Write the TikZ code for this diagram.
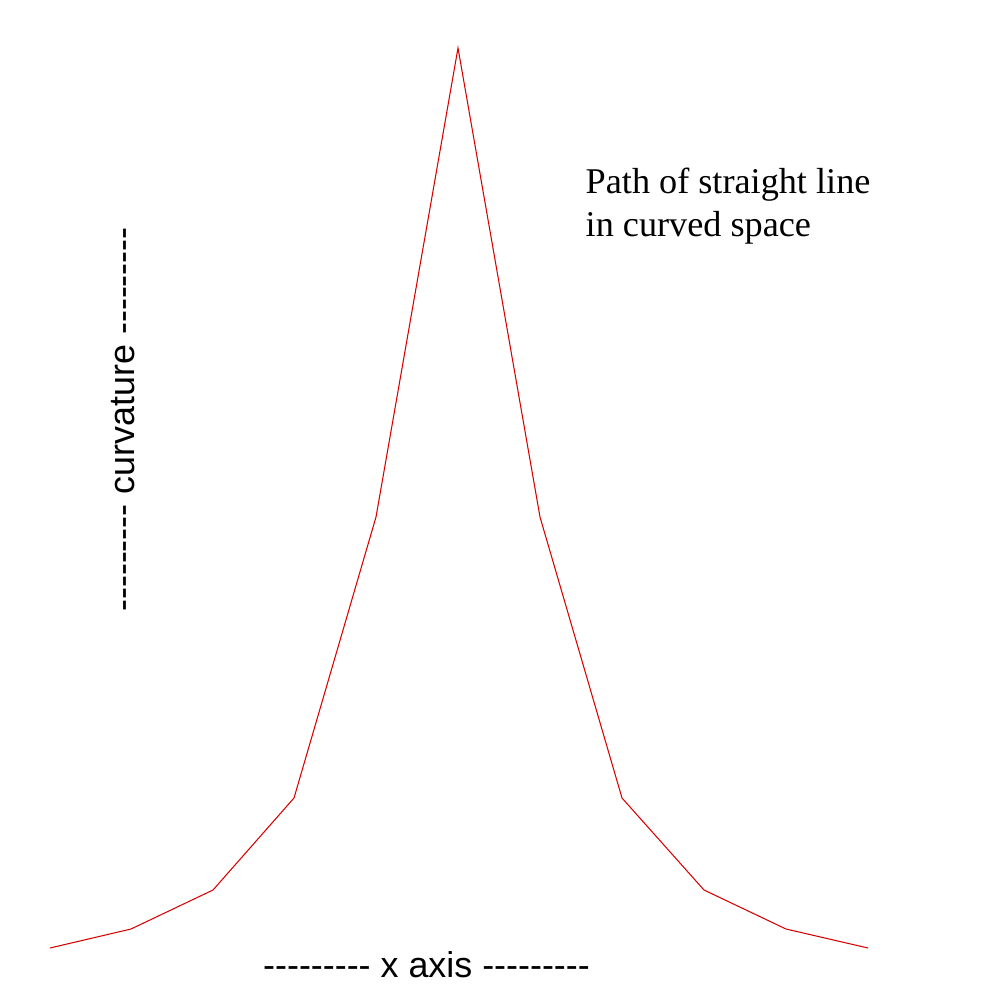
\documentclass[tikz,border=0pt]{standalone}
\usepackage{fontspec}
\setmainfont{Liberation Serif}
\newfontfamily\arialf{Liberation Sans}
\begin{document}
\begin{tikzpicture}[x=0.01cm,y=-0.01cm,
  curve/.style={draw=red!85!black, line width=0.3pt, line join=miter},
  axislabel/.style={font=\arialf\fontsize{10.2pt}{12pt}\selectfont, inner sep=0pt},
  note/.style={font=\fontsize{10.3pt}{12.2pt}\selectfont, inner sep=0pt, align=left}]
\useasboundingbox (0,0) rectangle (1000,1000);
\coordinate (p1) at (50,948);
\coordinate (p2) at (131,929);
\coordinate (p3) at (213,890);
\coordinate (p4) at (294,798);
\coordinate (p5) at (376,517);
\coordinate (p6) at (458,48);
\coordinate (p7) at (540,517);
\coordinate (p8) at (622,798);
\coordinate (p9) at (704,890);
\coordinate (p10) at (786,929);
\coordinate (p11) at (868,948);
\draw[curve] (p1) -- (p2) -- (p3) -- (p4) -- (p5) -- (p6) -- (p7) -- (p8) -- (p9) -- (p10) -- (p11);
\node[note, anchor=base west] (t) at (585,236) {Path of straight line\\in curved space};
\node[axislabel, anchor=base] (xa) at (426.5,977) {--------- x axis ---------};
\node[axislabel, anchor=base, rotate=90] (ya) at (134,419.5) {--------- curvature ---------};
\end{tikzpicture}
\end{document}
